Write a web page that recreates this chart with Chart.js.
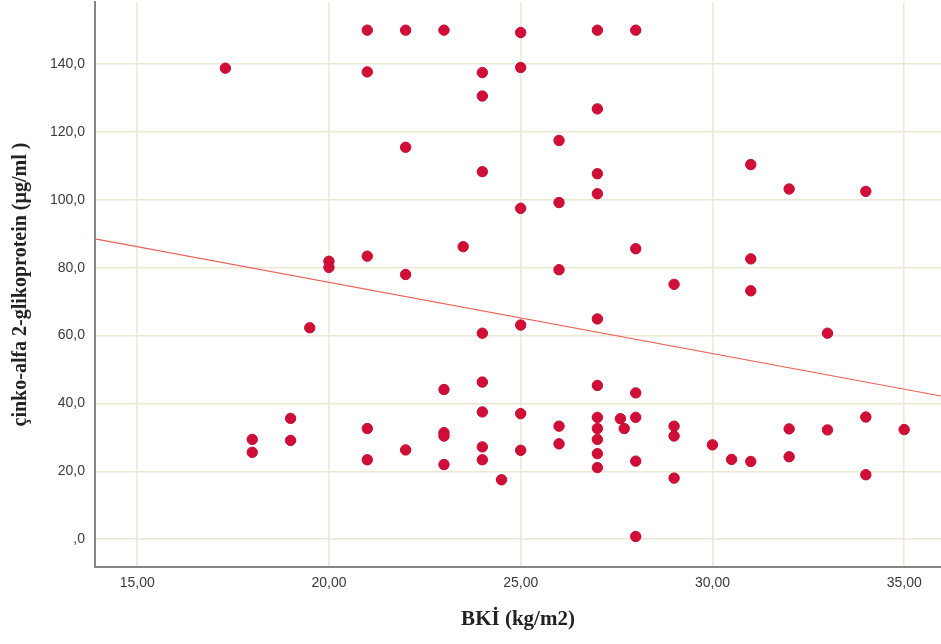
<!DOCTYPE html>
<html>
<head>
<meta charset="utf-8">
<script src="https://cdn.jsdelivr.net/npm/chart.js@4.4.1/dist/chart.umd.min.js"></script>
<style>
  body { margin: 0; background: #fff; }
  #scatter { display: block; }
</style>
</head>
<body>
<canvas id="scatter" width="941" height="644"></canvas>
<script>
// BKİ (x) and çinko-alfa 2-glikoprotein (y)
let bkiValues = [
    21, 22, 23, 25, 27, 28,
    17.3, 21, 24, 25, 24, 27, 26, 22, 24, 27, 27, 26, 25, 31, 32, 34,
    20, 20, 21, 22, 23.5, 28, 26, 29, 31, 31, 25, 27, 33, 24, 19.5,
    18, 18, 19, 19, 21, 21, 22,
    23, 23, 23, 23, 24, 24, 24, 24, 24.5, 25, 25, 26, 26,
    27, 27, 27, 27, 27, 27, 27.6, 27.7,
    28, 28, 28, 28, 29, 29, 29, 30, 30.5, 31, 32, 32, 33, 34, 34, 35
];
let zagValues = [
    150, 150, 150, 149.3, 150, 150,
    138.8, 137.7, 137.5, 139, 130.6, 126.8, 117.5, 115.5, 108.3, 107.7, 101.8, 99.2, 97.5, 110.4, 103.2, 102.5,
    81.9, 80.1, 83.4, 78.0, 86.2, 85.6, 79.4, 75.1, 82.6, 73.2, 63.1, 64.9, 60.7, 60.7, 62.3,
    29.4, 25.6, 35.6, 29.1, 32.6, 23.4, 26.3,
    44.1, 31.4, 30.4, 22.0, 46.3, 37.5, 27.2, 23.4, 17.5, 37.0, 26.2, 33.3, 28.1,
    45.3, 35.9, 32.6, 29.4, 25.2, 21.1, 35.5, 32.6,
    43.1, 35.9, 23.0, 0.8, 33.3, 30.4, 18.0, 27.8, 23.5, 22.9, 32.5, 24.3, 32.2, 36.0, 19.0, 32.3
];

// fit line (total) as drawn in the picture
let fitIntercept = 117.7;
let fitSlope = -2.1;

let xTicks = [15, 20, 25, 30, 35];
let yTicks = [0, 20, 40, 60, 80, 100, 120, 140];
let xRange = [13.9, 35.96];
let yRange = [-8.2, 158.3];

let points = [];
for (let i = 0; i < bkiValues.length; i++) {
    points.push({ x: bkiValues[i], y: zagValues[i] });
}

let fitLine = xRange.map(function (x) {
    return { x: x, y: fitIntercept + fitSlope * x };
});

const gridColor = '#ece8d4';
const tickFont = { family: 'Liberation Sans, Arial, sans-serif', size: 14 };

new Chart(document.getElementById("scatter"), {
    type: 'scatter',
    data: {
        datasets: [{
            label: 'fit',
            type: 'line',
            data: fitLine,
            borderColor: 'rgb(236, 98, 88)',
            borderWidth: 1.2,
            pointRadius: 0,
            fill: false
        }, {
            label: 'data',
            data: points,
            backgroundColor: 'rgb(208, 14, 56)',
            borderColor: 'rgb(196, 10, 50)',
            borderWidth: 1,
            pointRadius: 5.2
        }]
    },
    options: {
        responsive: false,
        animation: false,
        layout: { autoPadding: false, padding: { top: 2, right: 0, left: 0, bottom: 0 } },
        plugins: {
            legend: { display: false },
            tooltip: { enabled: false }
        },
        scales: {
            x: {
                type: 'linear',
                min: xRange[0],
                max: xRange[1],
                afterBuildTicks: function (scale) {
                    scale.ticks = xTicks.map(v => ({ value: v }));
                },
                afterFit: function (scale) {
                    scale.height = 77;
                    scale.paddingLeft = 0;
                    scale.paddingRight = 0;
                },
                grid: { color: gridColor, lineWidth: 1.5, drawTicks: false },
                border: { display: true, color: '#858585', width: 2 },
                ticks: {
                    padding: 8,
                    color: '#3a3a3a',
                    font: tickFont,
                    callback: v => v.toFixed(2).replace('.', ',')
                },
                title: {
                    display: true,
                    text: 'BKİ (kg/m2)',
                    color: '#222',
                    font: { family: 'Liberation Serif, Times New Roman, serif', size: 21, weight: 'bold' },
                    padding: { top: 0, bottom: 12 }
                }
            },
            y: {
                type: 'linear',
                min: yRange[0],
                max: yRange[1],
                afterBuildTicks: function (scale) {
                    scale.ticks = yTicks.map(v => ({ value: v }));
                },
                afterFit: function (scale) {
                    scale.width = 95;
                    scale.paddingTop = 0;
                    scale.paddingBottom = 0;
                },
                grid: { color: gridColor, lineWidth: 1.5, drawTicks: false },
                border: { display: true, color: '#858585', width: 2 },
                ticks: {
                    padding: 10,
                    color: '#3a3a3a',
                    font: tickFont,
                    callback: v => v === 0 ? ',0' : v.toFixed(1).replace('.', ',')
                },
                title: {
                    display: true,
                    text: 'çinko-alfa 2-glikoprotein (µg/ml )',
                    color: '#222',
                    font: { family: 'Liberation Serif, Times New Roman, serif', size: 20, weight: 'bold' },
                    padding: { top: 9, bottom: 0 }
                }
            }
        }
    }
});
</script>
</body>
</html>
